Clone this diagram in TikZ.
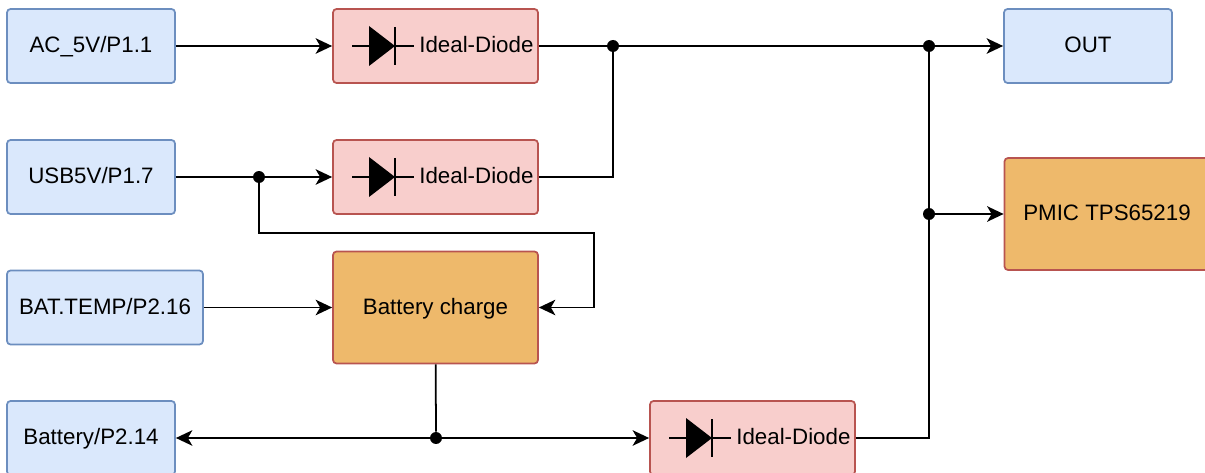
\documentclass[tikz,border=0pt]{standalone}
\usepackage{fontspec}
\setmainfont{Liberation Sans}
\usepackage{tikz}
\usetikzlibrary{arrows.meta,calc}
\definecolor{portfill}{HTML}{DAE8FC}
\definecolor{portline}{HTML}{6C8EBF}
\definecolor{diodefill}{HTML}{F8CECC}
\definecolor{diodeline}{HTML}{B85450}
\definecolor{chipfill}{HTML}{EEB96B}
\tikzset{
    box/.style={draw,rounded corners=0.07cm,line width=1pt,inner sep=0pt,text height=0.33cm,text depth=0.062cm,font=\fontsize{12.7}{15}\selectfont},
    port/.style={box,fill=portfill,draw=portline,minimum height=1.48cm},
    chip/.style={box,fill=chipfill,draw=diodeline,minimum height=2.24cm},
    diodebox/.style={box,fill=diodefill,draw=diodeline,minimum height=1.48cm,text width=3.92cm,inner xsep=0.09cm,align=right},
    wire/.style={line width=1pt,arrows={-Stealth[length=0.33cm,width=0.31cm,inset=0.09cm]}},
    plainwire/.style={line width=1pt},
    dot/.style={circle,fill=black,inner sep=0pt,minimum size=0.24cm},
    diode/.pic={
        \draw[line width=1pt] (0,0) -- (62,0);
        \fill (17,-20) -- (43,0) -- (17,20) -- cycle;
        \draw[line width=1pt] (43,-19) -- (43,19);
    }
}
\begin{document}
\begin{tikzpicture}[x=0.02cm,y=-0.02cm]
            \useasboundingbox (0,0) rectangle (1205,473);
            \node[port,minimum width=3.36cm] (ac) at (91,46) {AC\_5V/P1.1};
            \node[port,minimum width=3.36cm] (usb) at (91,177) {USB5V/P1.7};
            \node[port,minimum width=3.92cm] (temp) at (105,307.5) {BAT.TEMP/P2.16};
            \node[port,minimum width=3.36cm] (bat) at (91,438) {Battery/P2.14};
            \node[diodebox] (d1) at (435.5,46) {Ideal-Diode};
            \node[diodebox] (d2) at (435.5,177) {Ideal-Diode};
            \node[diodebox] (d3) at (752.5,438) {Ideal-Diode};
            \node[chip,minimum width=4.1cm] (charge) at (435.5,307.5) {Battery charge};
            \node[port,minimum width=3.36cm] (out) at (1088,46) {OUT};
            \node[chip,minimum width=4.1cm] (pmic) at (1107,214) {PMIC TPS65219};
            \pic at (352,46) {diode};
            \pic at (352,177) {diode};
            \pic at (669,438) {diode};
            \node[dot] (j1) at (613,46) {};
            \node[dot] (j2) at (929,46) {};
            \node[dot] (j3) at (929,214) {};
            \node[dot] (j4) at (259,177) {};
            \node[dot] (j5) at (436,438) {};
            \coordinate (k1) at (594,233);
            \draw[wire] (ac) -- (d1);
            \draw[plainwire] (d1) -- (j1);
            \draw[plainwire] (j1) -- (j2);
            \draw[wire] (j2) -- (out);
            \draw[plainwire] (d2) -| (j1);
            \draw[plainwire] (usb) -- (j4);
            \draw[wire] (j4) -- (d2);
            \draw[wire] (j4) |- (k1) |- (charge);
            \draw[wire] (temp) -- (charge);
            \draw[plainwire] (charge) -- (j5);
            \draw[wire] (j5) -- (bat);
            \draw[wire] (j5) -- (d3);
            \draw[plainwire] (d3) -| (j3);
            \draw[plainwire] (j3) -- (j2);
            \draw[wire] (j3) -- (pmic);
        \end{tikzpicture}
\end{document}
